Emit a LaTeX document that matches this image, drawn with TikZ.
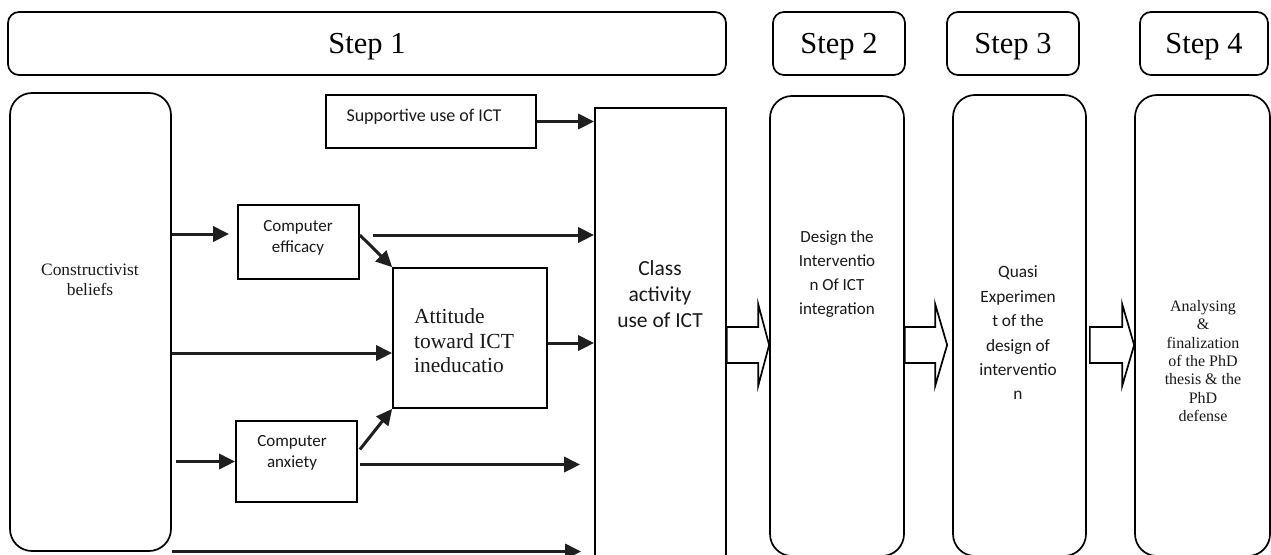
\documentclass[tikz,border=0pt]{standalone}
\usepackage{fontspec}
\setmainfont{Liberation Serif}
\newfontfamily\calfont{Carlito}
\usetikzlibrary{arrows.meta,calc}

% hollow block arrow: #1 tail point, #2 tip point, #3 head length
\newcommand\blockarrow[3]{%
  \draw[block] let \p1=(#1), \p2=(#2) in
    (\x1,\y1+18pt) -- (\x2-#3,\y1+18pt) -- (\x2-#3,\y1+41pt) -- (\x2,\y1)
    -- (\x2-#3,\y1-41pt) -- (\x2-#3,\y1-18pt) -- (\x1,\y1-18pt) -- cycle;}

\begin{document}
\begin{tikzpicture}[x=1pt,y=-1pt,
  frame/.style={draw=black, line width=1.7pt, inner sep=0pt},
  sq/.style={frame},
  roundbox/.style={frame, rounded corners=22pt},
  stepbox/.style={frame, rounded corners=11pt, text depth=0pt,
    font=\fontsize{30.5}{36}\selectfont},
  link/.style={draw=black!88, line width=3pt,
    -{Triangle[length=16pt,width=15pt]}},
  block/.style={draw=black, line width=1.7pt, fill=white, line join=miter},
  txt/.style={inner sep=0pt, align=center, text=black!90},
]
\path[use as bounding box, fill=white] (0,0) rectangle (1271,554);

% ---------- step headers ----------
\node[stepbox, minimum width=718pt, minimum height=63pt] (s1) at (367,43.5) {Step 1};
\node[stepbox, minimum width=132pt, minimum height=63pt] (s2) at (839,43.5) {Step 2};
\node[stepbox, minimum width=132pt, minimum height=63pt] (s3) at (1013,43.5) {Step 3};
\node[stepbox, minimum width=128pt, minimum height=63pt] (s4) at (1204,43.5) {Step 4};

% ---------- step 1 model ----------
\node[roundbox, minimum width=161pt, minimum height=458pt] (cb) at (90.5,322) {};
\node[sq, minimum width=210pt, minimum height=53pt] (sup) at (431,121.5) {};
\node[sq, minimum width=121pt, minimum height=74pt] (eff) at (298.5,242) {};
\node[sq, minimum width=154pt, minimum height=140pt] (att) at (470,338) {};
\node[sq, minimum width=121pt, minimum height=81pt] (anx) at (296.5,461.5) {};
\node[sq, minimum width=131pt, minimum height=500pt] (cls) at (660.5,358) {};

\node[txt, font=\fontsize{17.4}{20}\selectfont] at (90,280) {Constructivist\\beliefs};
\node[txt, font=\calfont\fontsize{18}{21}\selectfont] at (424,117) {Supportive use of ICT};
\node[txt, font=\calfont\fontsize{17}{20.5}\selectfont] at (298,238) {Computer\\efficacy};
\node[txt, font=\calfont\fontsize{17}{20.5}\selectfont] at (292,453) {Computer\\anxiety};
\node[txt, align=left, anchor=west, font=\fontsize{21.5}{24.5}\selectfont]
  at (414,341) {Attitude\\toward ICT\\ineducatio};
\node[txt, font=\calfont\fontsize{21.5}{26}\selectfont] at (660,294) {Class\\activity\\use of ICT};

% ---------- steps 2 to 4 ----------
\node[roundbox, minimum width=134pt, minimum height=460pt] (d2) at (837,326) {};
\node[roundbox, minimum width=133pt, minimum height=461pt] (d3) at (1019.5,325.5) {};
\node[roundbox, minimum width=135pt, minimum height=461pt] (d4) at (1202.5,325.5) {};

\node[txt, font=\calfont\fontsize{17}{24}\selectfont] at (837,274)
  {Design the\\Interventio\\n Of ICT\\integration};
\node[txt, font=\calfont\fontsize{17.3}{24.4}\selectfont] at (1018,333)
  {Quasi\\Experimen\\t of the\\design of\\interventio\\n};
\node[txt, font=\fontsize{16}{18.3}\selectfont] at (1203,361)
  {Analysing\\\&\\finalization\\of the PhD\\thesis \& the\\PhD\\defense};

% ---------- connectors ----------
\path (eff.west) ++(-8,-8) coordinate (effin);
\path (eff.east) ++(13,-7) coordinate (effout);
\path (att.west) ++(0,15) coordinate (attin);
\path (att.east) ++(0,5) coordinate (attout);
\path (cb.east |- anx.west) ++(4,0) coordinate (anxfrom);
\path (anx.east) ++(2,3) coordinate (anxout);
\path (anxout -| cls.west) ++(-14,0) coordinate (anxend);
\path (cb.east) ++(0,229.5) coordinate (lowfrom);
\path (lowfrom -| cls.west) ++(-13,0) coordinate (lowend);

\draw[link] (sup.east) -- (sup.east -| cls.west);
\draw[link] (cb.east |- effin) -- (effin);
\draw[link] (effout) -- (effout -| cls.west);
\draw[link] ([yshift=7pt]eff.east) -- (att.north west);
\draw[link] (cb.east |- attin) -- (attin);
\draw[link] (attout) -- (attout -| cls.west);
\draw[link] (anxfrom) -- (anx.west);
\draw[link] ([xshift=2pt,yshift=12pt]anx.east) -- (att.south west);
\draw[link] (anxout) -- (anxend);
\draw[link] (lowfrom) -- (lowend);

% ---------- hollow arrows between steps ----------
\coordinate (row) at (0,345);
\path (cls.east |- row) coordinate (b1s);
\path (b1s -| d2.west) coordinate (b1t);
\path (d2.east |- row) coordinate (b2s);
\path (b2s -| d3.west) ++(-5,0) coordinate (b2t);
\path (d3.east |- row) ++(3,0) coordinate (b3s);
\path (b3s -| d4.west) coordinate (b3t);
\blockarrow{b1s}{b1t}{11pt}
\blockarrow{b2s}{b2t}{12pt}
\blockarrow{b3s}{b3t}{12pt}
\end{tikzpicture}
\end{document}
